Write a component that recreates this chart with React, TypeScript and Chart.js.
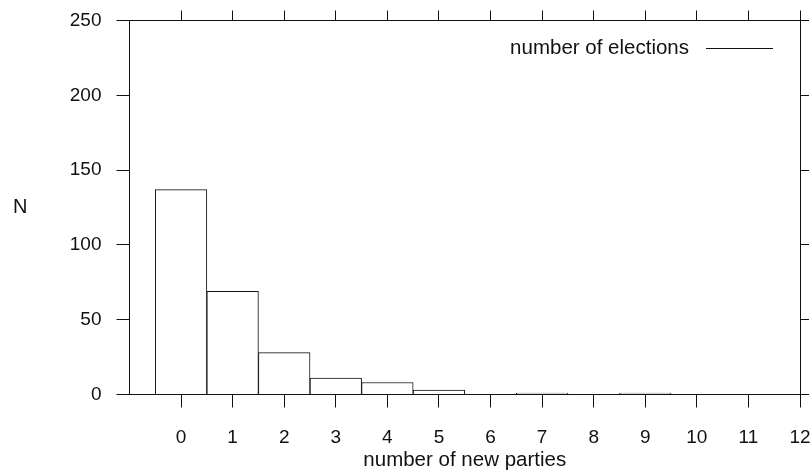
import React, { useEffect, useRef } from "react";
import { Chart, registerables } from "chart.js";

Chart.register(...registerables);

const categories = [0, 1, 2, 3, 4, 5, 6, 7, 8, 9, 10, 11, 12];
const elections = [137, 69, 28, 11, 8, 3, 0, 1, 0, 1, 0, 0, 0];
const yTicks = [0, 50, 100, 150, 200, 250];
const seriesLabel = "number of elections";
const xTitle = "number of new parties";
const yTitle = "N";

const FONT = "'Liberation Sans', Arial, sans-serif";
const INK = "#111111";

const keepCategoryTicks = (scale: any) => {
  scale.ticks = categories.map((v) => ({ value: v }));
};
const keepYTicks = (scale: any) => {
  scale.ticks = yTicks.map((v) => ({ value: v }));
};
const noPad = (s: any) => {
  s.paddingLeft = 0;
  s.paddingRight = 0;
  s.paddingTop = 0;
  s.paddingBottom = 0;
};

const overlayPlugin = {
  id: "overlay",
  afterDraw(chart: any) {
    const ctx = chart.ctx;
    ctx.save();
    ctx.fillStyle = INK;
    ctx.strokeStyle = INK;
    ctx.font = `20.5px ${FONT}`;
    ctx.textAlign = "right";
    ctx.textBaseline = "middle";
    ctx.fillText(seriesLabel, 689, 48);
    ctx.lineWidth = 1;
    ctx.beginPath();
    ctx.moveTo(706, 48.5);
    ctx.lineTo(773, 48.5);
    ctx.stroke();
    ctx.font = `20px ${FONT}`;
    ctx.textAlign = "left";
    ctx.fillText(yTitle, 13, 207);
    ctx.restore();
  },
};

export default function App() {
  const ref = useRef<HTMLCanvasElement | null>(null);

  useEffect(() => {
    if (!ref.current) return;
    const chart = new Chart(ref.current, {
      type: "bar",
      data: {
        datasets: [
          {
            label: seriesLabel,
            data: categories.map((c, i) => ({ x: c, y: elections[i] })),
            backgroundColor: "#ffffff",
            borderColor: INK,
            borderWidth: 1,
            categoryPercentage: 1,
            barPercentage: 1,
            xAxisID: "x",
            yAxisID: "y",
          } as any,
        ],
      },
      options: {
        animation: false,
        responsive: false,
        devicePixelRatio: 1,
        layout: { padding: 0 },
        plugins: {
          legend: { display: false },
          tooltip: { enabled: false },
        },
        scales: {
          x: {
            type: "linear",
            position: "bottom",
            min: -1,
            max: 12,
            offset: false,
            afterBuildTicks: keepCategoryTicks,
            afterFit: (s: any) => {
              s.height = 80.5;
              noPad(s);
            },
            grid: {
              offset: false,
              drawOnChartArea: false,
              drawTicks: true,
              tickLength: 13,
              tickColor: INK,
              tickWidth: 1,
            },
            border: { display: true, color: INK, width: 1 },
            ticks: {
              color: INK,
              font: { family: FONT, size: 19 },
              padding: 19,
              maxRotation: 0,
              autoSkip: false,
            },
            title: {
              display: true,
              text: xTitle,
              color: INK,
              font: { family: FONT, size: 20.5 },
              padding: { top: 0, bottom: 2 },
            },
          },
          x2: {
            type: "linear",
            position: "top",
            min: -1,
            max: 12,
            offset: false,
            afterBuildTicks: keepCategoryTicks,
            afterFit: (s: any) => {
              s.height = 20.5;
              noPad(s);
            },
            grid: {
              offset: false,
              drawOnChartArea: false,
              drawTicks: true,
              tickLength: 10,
              tickColor: INK,
            },
            border: { display: true, color: INK, width: 1 },
            ticks: { display: false },
          },
          y: {
            type: "linear",
            position: "left",
            min: 0,
            max: 250,
            afterBuildTicks: keepYTicks,
            afterFit: (s: any) => {
              s.width = 129.5;
              noPad(s);
            },
            grid: {
              drawOnChartArea: false,
              drawTicks: true,
              tickLength: 13,
              tickColor: INK,
            },
            border: { display: true, color: INK, width: 1 },
            ticks: {
              color: INK,
              font: { family: FONT, size: 19 },
              padding: 15,
            },
          },
          y2: {
            type: "linear",
            position: "right",
            min: 0,
            max: 250,
            afterBuildTicks: keepYTicks,
            afterFit: (s: any) => {
              s.width = 11;
              noPad(s);
            },
            grid: {
              drawOnChartArea: false,
              drawTicks: true,
              tickLength: 9,
              tickColor: INK,
            },
            border: { display: true, color: INK, width: 1 },
            ticks: { display: false },
          },
        },
      } as any,
      plugins: [overlayPlugin],
    });
    return () => chart.destroy();
  }, []);

  return (
    <div
      style={{
        position: "absolute",
        left: 0,
        top: 0,
        width: 811,
        height: 475,
        background: "#ffffff",
      }}
    >
      <canvas ref={ref} width={811} height={475} style={{ display: "block" }} />
    </div>
  );
}
